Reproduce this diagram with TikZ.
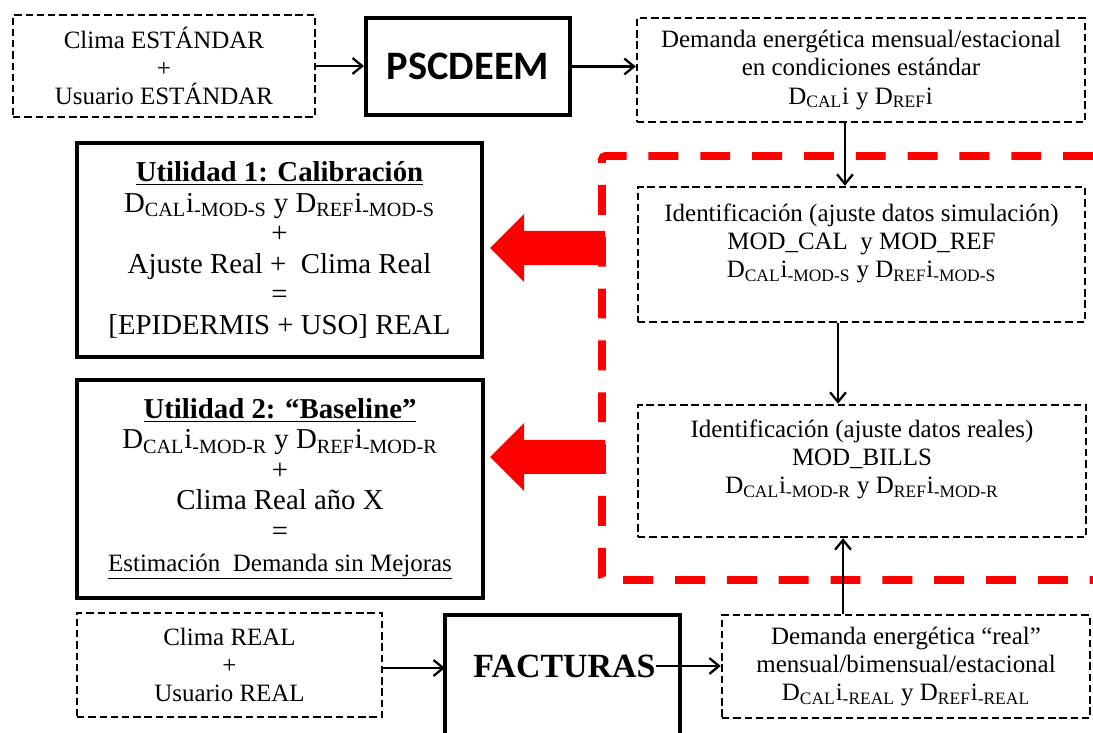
\documentclass[tikz,border=0pt]{standalone}
\usepackage{fontspec}
\setmainfont{Liberation Serif}
\newfontfamily\calibrifont{Carlito}
\usepackage{xcolor}
\usepackage{tikz}
\usetikzlibrary{arrows.meta, positioning, calc}
\definecolor{purered}{RGB}{255,0,0}
\newcommand{\smallfont}{\fontsize{14.2}{16}\selectfont}
\newcommand{\bigfont}{\fontsize{16.4}{17.4}\selectfont}
\newcommand{\Dsub}[2]{D\textsubscript{#1}i\textsubscript{#2}}

\begin{document}
\begin{tikzpicture}[
  x=0.02cm, y=-0.02cm,
  dbox/.style  = {rectangle, draw, line width=1.4pt, dash pattern=on 4.2pt off 2.2pt,
                  align=center, font=\smallfont, inner sep=0pt},
  sbox/.style  = {rectangle, draw, line width=2.3pt, align=center, inner sep=0pt},
  ubox/.style  = {sbox, font=\bigfont},
  arr/.style   = {-{Straight Barb[length=5.5pt,width=9pt]}, line width=1.3pt},
  redbound/.style = {draw=purered, line width=4.5pt, dash pattern=on 17pt off 12.5pt,
                  rounded corners=2pt},
  redarr/.style = {fill=purered},
]
\useasboundingbox (0,0) rectangle (1093,733);

%% --- Standard conditions (top row) ---
\node[dbox, minimum width=6.04cm, minimum height=2.04cm] (stdin) at (164,66)
  {Clima ESTÁNDAR\\+\\Usuario ESTÁNDAR};
\node[sbox, minimum width=4.08cm, minimum height=1.94cm,
      font=\calibrifont\bfseries\fontsize{23}{26}\selectfont] (psc) at (468,66.5) {PSCDEEM};
\node[dbox, minimum width=8.96cm, minimum height=2.08cm] (dem) at (861,70)
  {Demanda energética mensual/estacional\\en condiciones estándar\\\Dsub{CAL}{} y \Dsub{REF}{}};

%% --- Identification (red region) ---
\draw[redbound] (1093,156) -- (602,156) -- (602,580) -- (1093,580);
\node[dbox, minimum width=8.94cm, minimum height=2.70cm] (id1) at (861.5,254.5)
  {Identificación (ajuste datos simulación)\\MOD\_CAL~ y MOD\_REF\\\Dsub{CAL}{-MOD-S} y \Dsub{REF}{-MOD-S}\\\mbox{}};
\node[dbox, minimum width=8.96cm, minimum height=2.64cm] (id2) at (862,471)
  {Identificación (ajuste datos reales)\\MOD\_BILLS\\\Dsub{CAL}{-MOD-R} y \Dsub{REF}{-MOD-R}\\\mbox{}};

%% --- Utilities ---
\node[ubox, minimum width=8.10cm, minimum height=4.28cm] (ut1) at (279.5,250)
  {\underline{\textbf{Utilidad 1: Calibración}}\\\Dsub{CAL}{-MOD-S} y \Dsub{REF}{-MOD-S}\\+\\
   Ajuste Real +~ Clima Real\\=\\{[EPIDERMIS + USO] REAL}};
\node[ubox, minimum width=8.12cm, minimum height=4.36cm] (ut2) at (280,489)
  {\underline{\textbf{Utilidad 2: “Baseline”}}\\\Dsub{CAL}{-MOD-R} y \Dsub{REF}{-MOD-R}\\+\\
   Clima Real año X\\=\\{\smallfont\underline{Estimación~ Demanda sin Mejoras}}};

\foreach \ya in {248,457} {
  \fill[redarr] (490,\ya) -- ++(34,-34) -- ++(0,17) -- ++(81,0) -- ++(0,34)
                -- ++(-81,0) -- ++(0,17) -- cycle;
}

%% --- Real conditions (bottom row) ---
\node[dbox, minimum width=6.10cm, minimum height=2.08cm] (rin) at (229.5,665)
  {Clima REAL\\+\\Usuario REAL};
\draw[line width=2.3pt] (445,733) |- (680,615) -- (680,733);
\node[font=\bfseries\fontsize{19.3}{20}\selectfont, inner sep=0pt] (fac) at (564.5,666) {FACTURAS};
\coordinate (facin) at (445,668);
\node[dbox, minimum width=7.36cm, minimum height=2.06cm] (dreal) at (906,666.5)
  {Demanda energética “real”\\mensual/bimensual/estacional\\\Dsub{CAL}{-REAL} y \Dsub{REF}{-REAL}};

%% --- Arrows ---
\coordinate (colA) at (845,0);
\coordinate (colB) at (838,0);
\coordinate (colC) at (843,0);
\draw[arr] (stdin.east) -- (stdin.east -| psc.west);
\draw[arr] (psc.east) -- (psc.east -| dem.west);
\draw[arr] (dem.south -| colA) -- (id1.north -| colA);
\draw[arr] (id1.south -| colB) -- (id2.north -| colB);
\draw[arr] (dreal.north -| colC) -- (id2.south -| colC);
\draw[arr] (rin.east |- facin) -- (facin);
\draw[arr] (fac.east) -- (fac.east -| dreal.west);

\end{tikzpicture}
\end{document}
